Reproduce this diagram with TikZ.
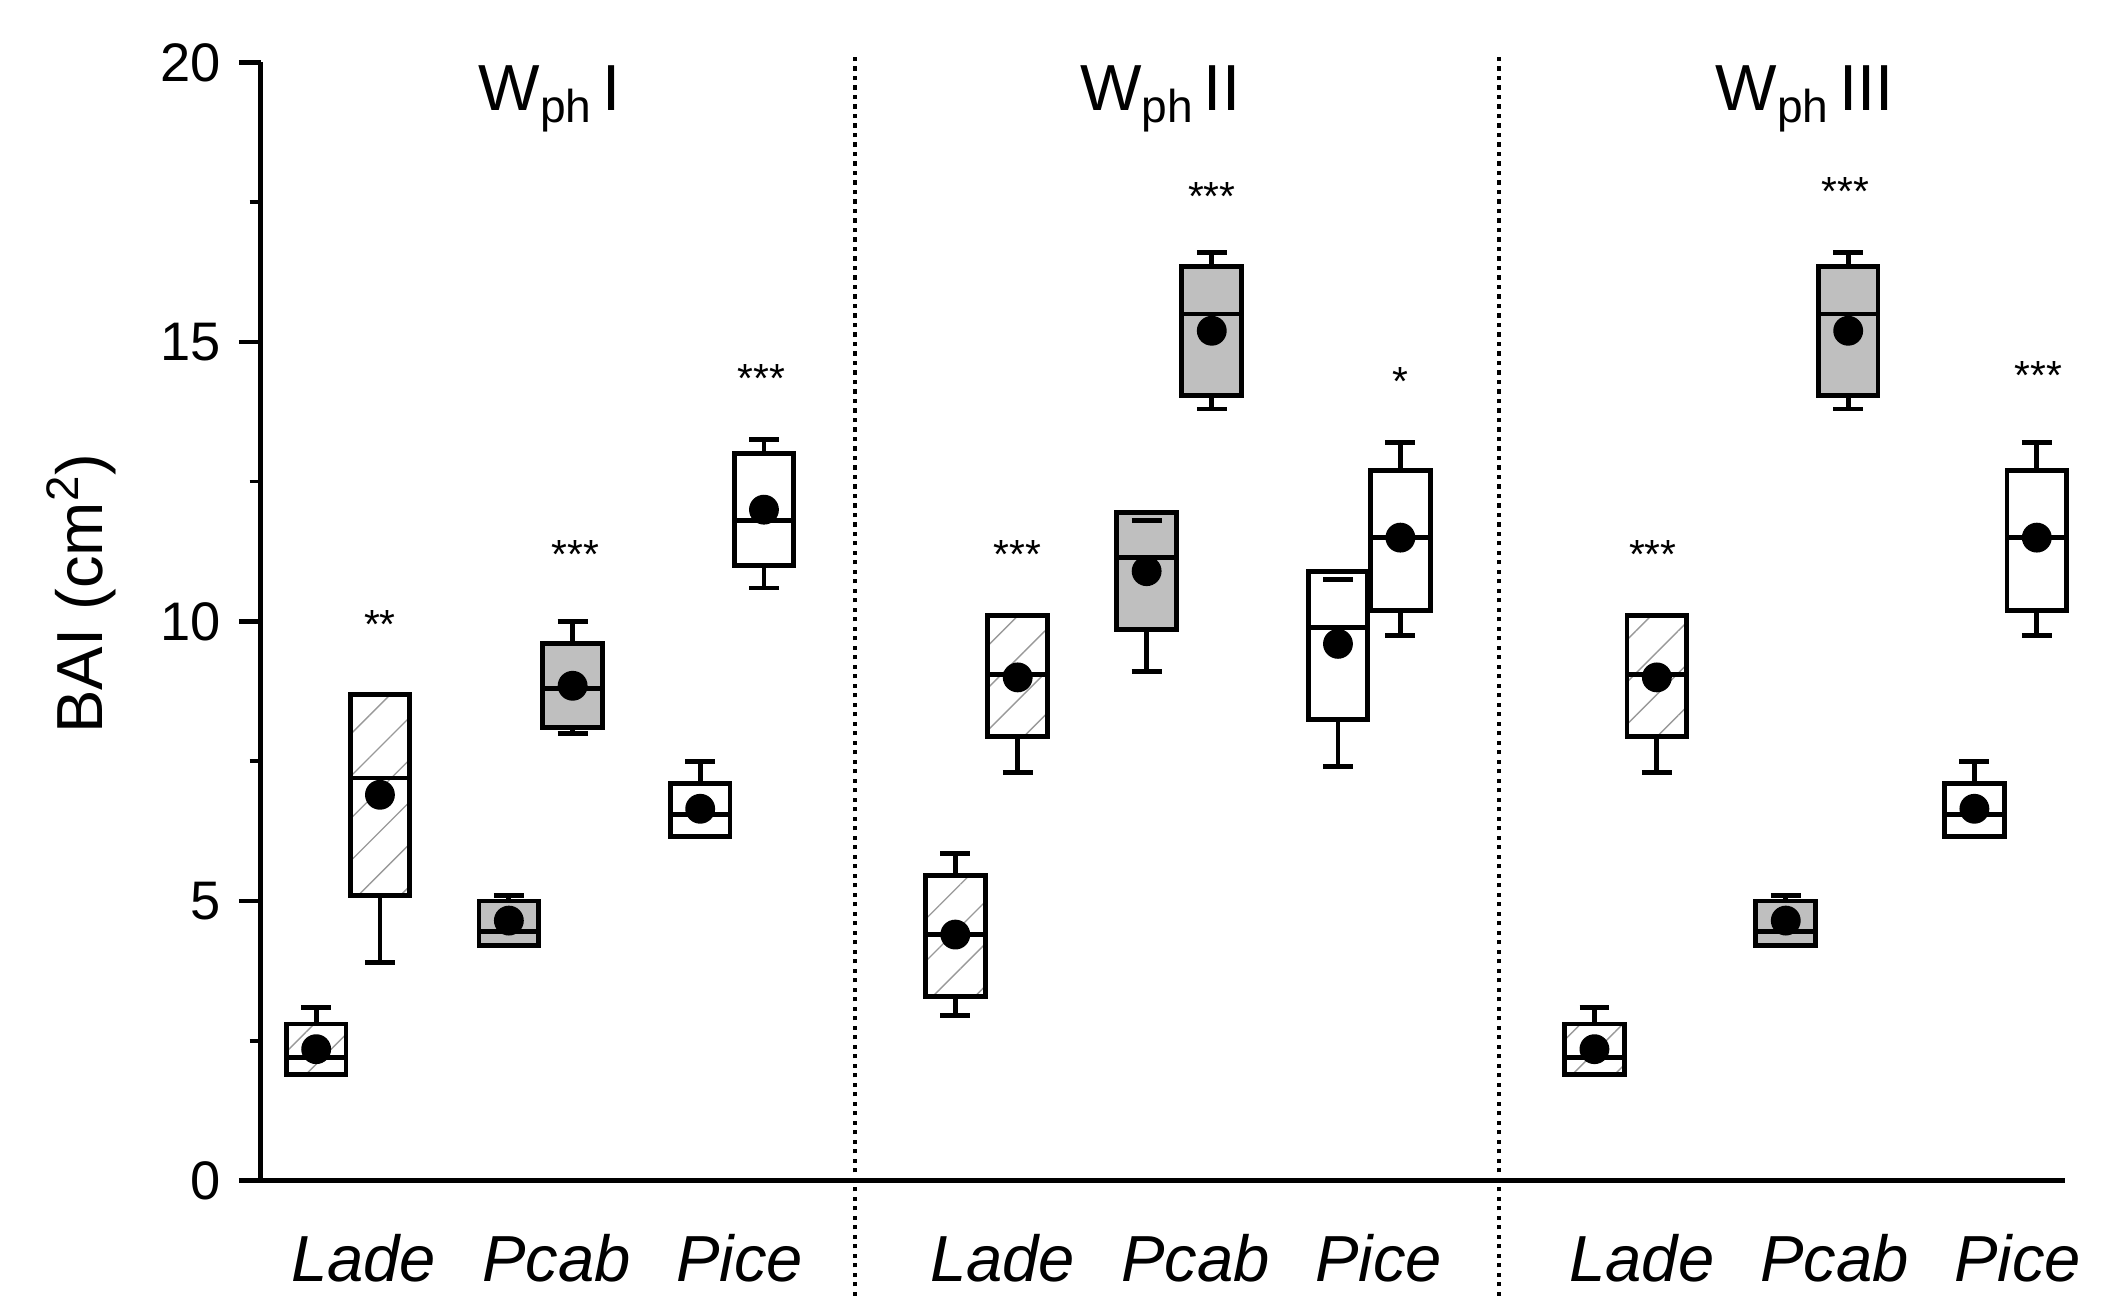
\documentclass[tikz,border=0pt]{standalone}
\usepackage{fontspec}
\setmainfont{Liberation Sans}
\usetikzlibrary{patterns.meta}
\tikzset{
  bline/.style={line width=1.8pt},
  hatch/.style={pattern={Lines[angle=45,distance=11pt,line width=0.5pt]},pattern color=gray!80},
  grayf/.style={fill=black!25},
  whitef/.style={fill=white},
  star/.style={font=\fontsize{15}{15}\selectfont},
  tlab/.style={font=\fontsize{20}{20}\selectfont,anchor=east},
  slab/.style={font=\fontsize{24}{24}\selectfont\itshape},
  plab/.style={font=\fontsize{24}{24}\selectfont},
}
\newcommand\Y[1]{85+41.2*(#1)}
\newcommand\Wph[1]{W\raisebox{-0.35ex}{\fontsize{17}{17}\selectfont ph}\,#1}
% \bxp{x}{wlo}{blo}{med}{bhi}{whi}{mean}{style}
\newcommand\bxp[8]{%
  \draw[bline] (#1,{\Y{#2}}) -- (#1,{\Y{#3}});
  \draw[bline] (#1,{\Y{#5}}) -- (#1,{\Y{#6}});
  \draw[bline] (#1-11,{\Y{#2}}) -- (#1+11,{\Y{#2}});
  \draw[bline] (#1-11,{\Y{#6}}) -- (#1+11,{\Y{#6}});
  \draw[bline,#8] (#1-22,{\Y{#3}}) rectangle (#1+22,{\Y{#5}});
  \draw[bline] (#1-22,{\Y{#4}}) -- (#1+22,{\Y{#4}});
  \fill (#1,{\Y{#7}}) circle (11);
}
\begin{document}
\begin{tikzpicture}[x=0.5pt,y=0.5pt]
\useasboundingbox (0,0) rectangle (1552,955);
% axes
\draw[line width=1.8pt] (192,{\Y{20}}) -- (192,{\Y{0}}) -- (1522,{\Y{0}});
\foreach \v in {0,5,10,15,20}{
  \draw[line width=1.6pt] (176,{\Y{\v}}) -- (192,{\Y{\v}});
  \node[tlab] at (170,{\Y{\v}}) {\v};
}
\foreach \v in {2.5,7.5,12.5,17.5}{
  \draw[line width=1.3pt] (184,{\Y{\v}}) -- (192,{\Y{\v}});
}
\node[plab,rotate=90] (yl) at (60,{\Y{10.5}}) {BAI (cm\textsuperscript{2})};
% separators
\draw[line width=1.5pt,dotted] (630,0) -- (630,915);
\draw[line width=1.5pt,dotted] (1105,0) -- (1105,915);
% panel titles
\node[plab] (t1) at (405,882) {\Wph{I}};
\node[plab] (t2) at (855,882) {\Wph{II}};
\node[plab] (t3) at (1330,882) {\Wph{III}};
% species labels
\foreach \o/\n in {0/a,471/b,942/c}{
  \node[slab] (la\n) at (268+\o,28) {Lade};
  \node[slab] (pc\n) at (410+\o,28) {Pcab};
  \node[slab] (pi\n) at (545+\o,28) {Pice};
}
% Panel I
\bxp{233}{1.9}{1.9}{2.2}{2.8}{3.1}{2.35}{hatch}
\bxp{280}{3.9}{5.1}{7.2}{8.7}{8.7}{6.9}{hatch}
\bxp{375}{4.2}{4.2}{4.45}{5.0}{5.1}{4.65}{grayf}
\bxp{422}{8.0}{8.1}{8.8}{9.6}{10.0}{8.85}{grayf}
\bxp{516}{6.15}{6.15}{6.55}{7.1}{7.5}{6.65}{whitef}
\bxp{563}{10.6}{11.0}{11.8}{13.0}{13.25}{12.0}{whitef}
\node[star] (s1) at (280,{\Y{9.95}}) {**};
\node[star] (s2) at (424,{\Y{11.2}}) {***};
\node[star] (s3) at (561,{\Y{14.35}}) {***};
% Panel II
\bxp{704}{2.95}{3.3}{4.4}{5.45}{5.85}{4.4}{hatch}
\bxp{750}{7.3}{7.95}{9.05}{10.1}{10.1}{9.0}{hatch}
\bxp{845}{9.1}{9.85}{11.15}{11.95}{11.8}{10.9}{grayf}
\draw[bline] (834,{\Y{11.8}}) -- (856,{\Y{11.8}});
\bxp{893}{13.8}{14.05}{15.5}{16.35}{16.6}{15.2}{grayf}
\bxp{986}{7.4}{8.25}{9.9}{10.9}{10.75}{9.6}{whitef}
\draw[bline] (975,{\Y{10.75}}) -- (997,{\Y{10.75}});
\bxp{1032}{9.75}{10.2}{11.5}{12.7}{13.2}{11.5}{whitef}
\node[star] (s4) at (750,{\Y{11.2}}) {***};
\node[star] (s5) at (893,{\Y{17.6}}) {***};
\node[star] (s6) at (1032,{\Y{14.3}}) {*};
% Panel III
\bxp{1175}{1.9}{1.9}{2.2}{2.8}{3.1}{2.35}{hatch}
\bxp{1221}{7.3}{7.95}{9.05}{10.1}{10.1}{9.0}{hatch}
\bxp{1316}{4.2}{4.2}{4.45}{5.0}{5.1}{4.65}{grayf}
\bxp{1362}{13.8}{14.05}{15.5}{16.35}{16.6}{15.2}{grayf}
\bxp{1455}{6.15}{6.15}{6.55}{7.1}{7.5}{6.65}{whitef}
\bxp{1501}{9.75}{10.2}{11.5}{12.7}{13.2}{11.5}{whitef}
\node[star] (s7) at (1218,{\Y{11.2}}) {***};
\node[star] (s8) at (1360,{\Y{17.7}}) {***};
\node[star] (s9) at (1502,{\Y{14.4}}) {***};
\end{tikzpicture}
\end{document}
